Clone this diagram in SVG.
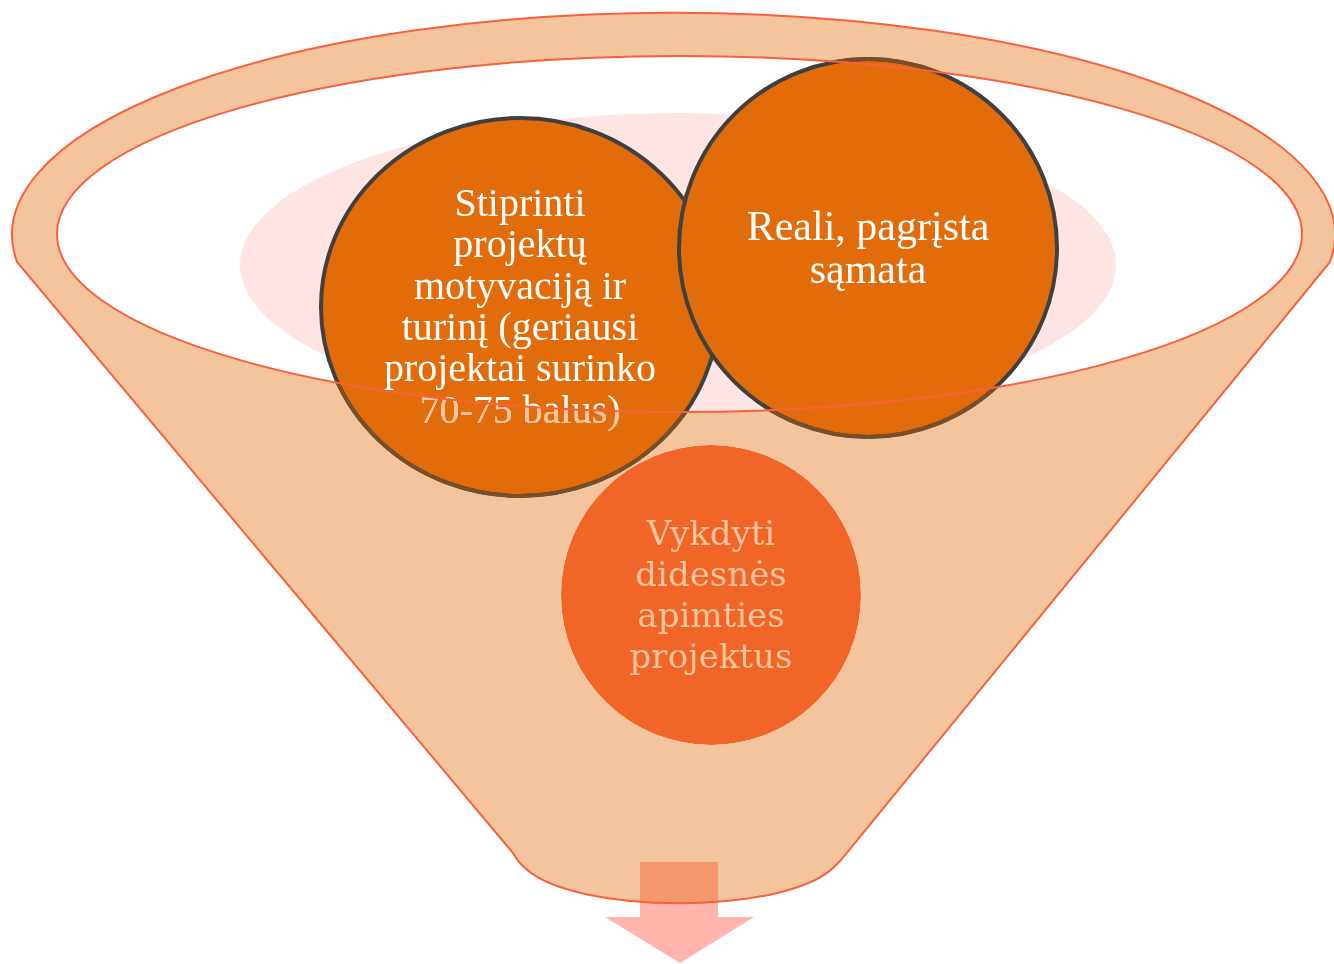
<svg xmlns="http://www.w3.org/2000/svg" width="1334" height="964" viewBox="0 0 1334 964">
<style>
.circ{fill:#E36C0A;stroke:#404040;stroke-width:4}
.t1{font-family:"Liberation Serif","Times New Roman",serif;fill:#FFFFFF;text-anchor:middle}
.t3{font-family:"DejaVu Serif","Liberation Serif",serif;fill:#F4C49C;text-anchor:middle}
.brown{fill:none;stroke:#7A4F28;stroke-width:4}
</style>
<defs>
<path id="funnelPath" d="M17 262 A661.5 222 0 1 1 1330 262 L845 855 Q840 862 833 868 C783 915 575 915 525 868 Q518 862 513 853 Z M57 234 A622.5 178 0 1 0 1302 234 A622.5 178 0 1 0 57 234 Z"/>
<clipPath id="funnelClip"><use href="#funnelPath" clip-rule="evenodd"/></clipPath>
</defs>
<rect x="0" y="0" width="1334" height="964" fill="#FFFFFF"/>
<ellipse id="glow" cx="678" cy="265" rx="438" ry="152" fill="#FEE5E4"/>
<g id="node-stiprinti">
<ellipse class="circ" cx="520" cy="307" rx="199" ry="189"/>
<text class="t1" font-size="40"><tspan x="520" y="216">Stiprinti</tspan><tspan x="520" y="257">projektų</tspan><tspan x="520" y="298.5">motyvaciją ir</tspan><tspan x="520" y="340">turinį (geriausi</tspan><tspan x="520" y="381">projektai surinko</tspan><tspan x="520" y="422.5">70-75 balus)</tspan></text>
</g>
<g id="node-reali">
<circle class="circ" cx="868" cy="248" r="189"/>
<text class="t1" font-size="42"><tspan x="868" y="240">Reali, pagrįsta</tspan><tspan x="868" y="283">sąmata</tspan></text>
</g>
<g id="node-vykdyti">
<circle cx="711" cy="595" r="150" fill="#F26529"/>
<text class="t3" font-size="34"><tspan x="711" y="545">Vykdyti</tspan><tspan x="711" y="586">didesnės</tspan><tspan x="711" y="627">apimties</tspan><tspan x="711" y="668">projektus</tspan></text>
</g>
<g id="funnel">
<use href="#funnelPath" fill="#F4C49C" fill-rule="evenodd" style="mix-blend-mode:darken"/>
<g clip-path="url(#funnelClip)">
<ellipse class="brown" cx="520" cy="307" rx="199" ry="189"/>
<circle class="brown" cx="868" cy="248" r="189"/>
</g>
</g>
<g id="connectors">
<path id="arrow" d="M640 862 H718 V917 H754 L680 963 L605 917 H640 Z" fill="#FFB4AC"/>
<rect x="640" y="862" width="78" height="55" fill="#F3986C" clip-path="url(#funnelClip)"/>
</g>
<use href="#funnelPath" fill="none" stroke="#F8603F" stroke-width="2"/>
</svg>
